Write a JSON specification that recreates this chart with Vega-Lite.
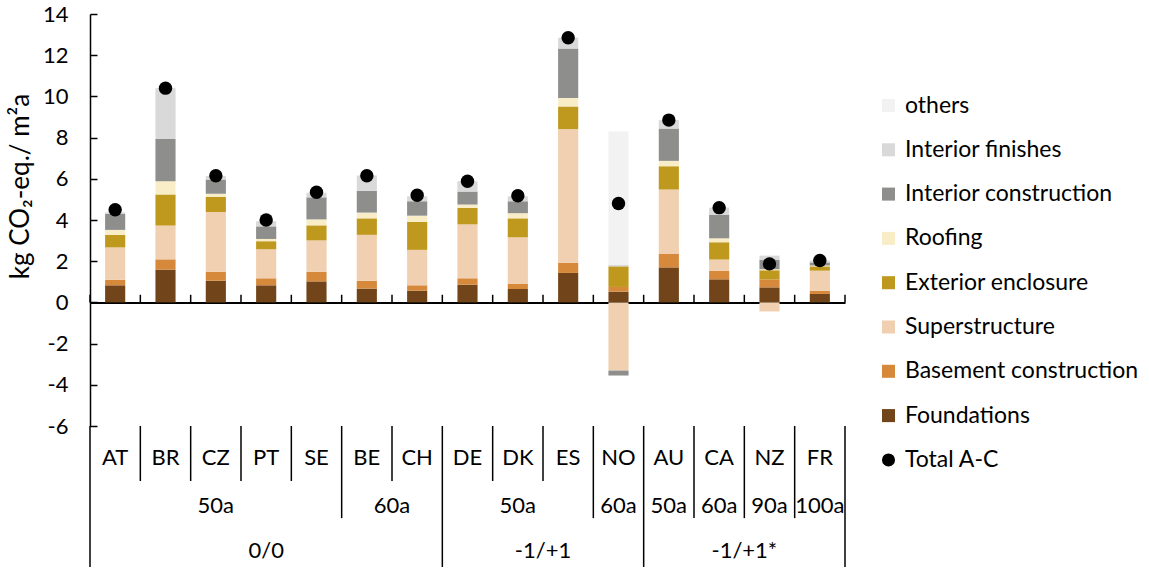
{
  "$schema": "https://vega.github.io/schema/vega-lite/v6.json",
  "padding": {"left": 7, "top": 3, "right": 0, "bottom": 0},
  "bounds": "flush",
  "config": {"font": "Lato", "view": {"stroke": null}, "concat": {"spacing": 0}},
  "datasets": {
    "components": [
      {"component": "Foundations", "k": 1},
      {"component": "Basement construction", "k": 2},
      {"component": "Superstructure", "k": 3},
      {"component": "Exterior enclosure", "k": 4},
      {"component": "Roofing", "k": 5},
      {"component": "Interior construction", "k": 6},
      {"component": "Interior finishes", "k": 7},
      {"component": "others", "k": 8}
    ],
    "parts": [
      {"country": "AT", "component": "Foundations", "value": 0.83},
      {"country": "AT", "component": "Basement construction", "value": 0.27},
      {"country": "AT", "component": "Superstructure", "value": 1.57},
      {"country": "AT", "component": "Exterior enclosure", "value": 0.61},
      {"country": "AT", "component": "Roofing", "value": 0.24},
      {"country": "AT", "component": "Interior construction", "value": 0.77},
      {"country": "AT", "component": "Interior finishes", "value": 0.08},
      {"country": "BR", "component": "Foundations", "value": 1.59},
      {"country": "BR", "component": "Basement construction", "value": 0.5},
      {"country": "BR", "component": "Superstructure", "value": 1.64},
      {"country": "BR", "component": "Exterior enclosure", "value": 1.51},
      {"country": "BR", "component": "Roofing", "value": 0.64},
      {"country": "BR", "component": "Interior construction", "value": 2.05},
      {"country": "BR", "component": "Interior finishes", "value": 2.46},
      {"country": "CZ", "component": "Foundations", "value": 1.05},
      {"country": "CZ", "component": "Basement construction", "value": 0.44},
      {"country": "CZ", "component": "Superstructure", "value": 2.9},
      {"country": "CZ", "component": "Exterior enclosure", "value": 0.73},
      {"country": "CZ", "component": "Roofing", "value": 0.15},
      {"country": "CZ", "component": "Interior construction", "value": 0.69},
      {"country": "CZ", "component": "Interior finishes", "value": 0.17},
      {"country": "PT", "component": "Foundations", "value": 0.83},
      {"country": "PT", "component": "Basement construction", "value": 0.34},
      {"country": "PT", "component": "Superstructure", "value": 1.41},
      {"country": "PT", "component": "Exterior enclosure", "value": 0.39},
      {"country": "PT", "component": "Roofing", "value": 0.11},
      {"country": "PT", "component": "Interior construction", "value": 0.61},
      {"country": "PT", "component": "Interior finishes", "value": 0.25},
      {"country": "SE", "component": "Foundations", "value": 1.02},
      {"country": "SE", "component": "Basement construction", "value": 0.46},
      {"country": "SE", "component": "Superstructure", "value": 1.53},
      {"country": "SE", "component": "Exterior enclosure", "value": 0.73},
      {"country": "SE", "component": "Roofing", "value": 0.29},
      {"country": "SE", "component": "Interior construction", "value": 1.07},
      {"country": "SE", "component": "Interior finishes", "value": 0.22},
      {"country": "BE", "component": "Foundations", "value": 0.67},
      {"country": "BE", "component": "Basement construction", "value": 0.38},
      {"country": "BE", "component": "Superstructure", "value": 2.23},
      {"country": "BE", "component": "Exterior enclosure", "value": 0.8},
      {"country": "BE", "component": "Roofing", "value": 0.28},
      {"country": "BE", "component": "Interior construction", "value": 1.06},
      {"country": "BE", "component": "Interior finishes", "value": 0.74},
      {"country": "CH", "component": "Foundations", "value": 0.57},
      {"country": "CH", "component": "Basement construction", "value": 0.26},
      {"country": "CH", "component": "Superstructure", "value": 1.72},
      {"country": "CH", "component": "Exterior enclosure", "value": 1.36},
      {"country": "CH", "component": "Roofing", "value": 0.3},
      {"country": "CH", "component": "Interior construction", "value": 0.7},
      {"country": "CH", "component": "Interior finishes", "value": 0.24},
      {"country": "DE", "component": "Foundations", "value": 0.86},
      {"country": "DE", "component": "Basement construction", "value": 0.31},
      {"country": "DE", "component": "Superstructure", "value": 2.62},
      {"country": "DE", "component": "Exterior enclosure", "value": 0.8},
      {"country": "DE", "component": "Roofing", "value": 0.16},
      {"country": "DE", "component": "Interior construction", "value": 0.63},
      {"country": "DE", "component": "Interior finishes", "value": 0.5},
      {"country": "DK", "component": "Foundations", "value": 0.65},
      {"country": "DK", "component": "Basement construction", "value": 0.26},
      {"country": "DK", "component": "Superstructure", "value": 2.25},
      {"country": "DK", "component": "Exterior enclosure", "value": 0.92},
      {"country": "DK", "component": "Roofing", "value": 0.25},
      {"country": "DK", "component": "Interior construction", "value": 0.58},
      {"country": "DK", "component": "Interior finishes", "value": 0.24},
      {"country": "ES", "component": "Foundations", "value": 1.43},
      {"country": "ES", "component": "Basement construction", "value": 0.5},
      {"country": "ES", "component": "Superstructure", "value": 6.48},
      {"country": "ES", "component": "Exterior enclosure", "value": 1.1},
      {"country": "ES", "component": "Roofing", "value": 0.41},
      {"country": "ES", "component": "Interior construction", "value": 2.4},
      {"country": "ES", "component": "Interior finishes", "value": 0.53},
      {"country": "NO", "component": "Foundations", "value": 0.52},
      {"country": "NO", "component": "Basement construction", "value": 0.23},
      {"country": "NO", "component": "Superstructure", "value": -3.31},
      {"country": "NO", "component": "Exterior enclosure", "value": 1.0},
      {"country": "NO", "component": "Interior construction", "value": -0.24},
      {"country": "NO", "component": "Interior finishes", "value": 0.08},
      {"country": "NO", "component": "others", "value": 6.47},
      {"country": "AU", "component": "Foundations", "value": 1.7},
      {"country": "AU", "component": "Basement construction", "value": 0.65},
      {"country": "AU", "component": "Superstructure", "value": 3.13},
      {"country": "AU", "component": "Exterior enclosure", "value": 1.13},
      {"country": "AU", "component": "Roofing", "value": 0.26},
      {"country": "AU", "component": "Interior construction", "value": 1.57},
      {"country": "AU", "component": "Interior finishes", "value": 0.41},
      {"country": "CA", "component": "Foundations", "value": 1.12},
      {"country": "CA", "component": "Basement construction", "value": 0.41},
      {"country": "CA", "component": "Superstructure", "value": 0.55},
      {"country": "CA", "component": "Exterior enclosure", "value": 0.84},
      {"country": "CA", "component": "Roofing", "value": 0.19},
      {"country": "CA", "component": "Interior construction", "value": 1.15},
      {"country": "CA", "component": "Interior finishes", "value": 0.34},
      {"country": "NZ", "component": "Foundations", "value": 0.73},
      {"country": "NZ", "component": "Basement construction", "value": 0.39},
      {"country": "NZ", "component": "Superstructure", "value": -0.44},
      {"country": "NZ", "component": "Exterior enclosure", "value": 0.44},
      {"country": "NZ", "component": "Roofing", "value": 0.05},
      {"country": "NZ", "component": "Interior construction", "value": 0.45},
      {"country": "NZ", "component": "Interior finishes", "value": 0.21},
      {"country": "FR", "component": "Foundations", "value": 0.41},
      {"country": "FR", "component": "Basement construction", "value": 0.16},
      {"country": "FR", "component": "Superstructure", "value": 0.97},
      {"country": "FR", "component": "Exterior enclosure", "value": 0.21},
      {"country": "FR", "component": "Roofing", "value": 0.04},
      {"country": "FR", "component": "Interior construction", "value": 0.15},
      {"country": "FR", "component": "Interior finishes", "value": 0.09}
    ],
    "totals": [
      {"country": "AT", "component": "Total A-C", "total": 4.5},
      {"country": "BR", "component": "Total A-C", "total": 10.4},
      {"country": "CZ", "component": "Total A-C", "total": 6.15},
      {"country": "PT", "component": "Total A-C", "total": 4.0},
      {"country": "SE", "component": "Total A-C", "total": 5.35},
      {"country": "BE", "component": "Total A-C", "total": 6.15},
      {"country": "CH", "component": "Total A-C", "total": 5.2},
      {"country": "DE", "component": "Total A-C", "total": 5.88},
      {"country": "DK", "component": "Total A-C", "total": 5.18},
      {"country": "ES", "component": "Total A-C", "total": 12.85},
      {"country": "NO", "component": "Total A-C", "total": 4.8},
      {"country": "AU", "component": "Total A-C", "total": 8.85},
      {"country": "CA", "component": "Total A-C", "total": 4.6},
      {"country": "NZ", "component": "Total A-C", "total": 1.87},
      {"country": "FR", "component": "Total A-C", "total": 2.03}
    ],
    "countries": [
      {"country": "AT"}, {"country": "BR"}, {"country": "CZ"}, {"country": "PT"}, {"country": "SE"},
      {"country": "BE"}, {"country": "CH"}, {"country": "DE"}, {"country": "DK"}, {"country": "ES"},
      {"country": "NO"}, {"country": "AU"}, {"country": "CA"}, {"country": "NZ"}, {"country": "FR"}
    ],
    "sepCountry": [
      {"country": "BR"}, {"country": "CZ"}, {"country": "PT"}, {"country": "SE"},
      {"country": "CH"}, {"country": "DK"}, {"country": "ES"}
    ],
    "sepLife": [
      {"country": "BE"}, {"country": "NO"}, {"country": "CA"}, {"country": "NZ"}, {"country": "FR"}
    ],
    "sepGroup": [
      {"country": "AT"}, {"country": "DE"}, {"country": "AU"}
    ],
    "sepEnd": [
      {"country": "FR"}
    ],
    "lifeMid": [
      {"country": "CZ", "label": "50a"},
      {"country": "DK", "label": "50a"},
      {"country": "NO", "label": "60a"},
      {"country": "AU", "label": "50a"},
      {"country": "CA", "label": "60a"},
      {"country": "NZ", "label": "90a"},
      {"country": "FR", "label": "100a"}
    ],
    "lifeEdge": [
      {"country": "CH", "label": "60a"}
    ],
    "groupMid": [
      {"country": "PT", "label": "0/0"}
    ],
    "groupEdge": [
      {"country": "ES", "label": "-1/+1"},
      {"country": "NZ", "label": "-1/+1*"}
    ]
  },
  "resolve": {"scale": {"x": "independent", "y": "independent"}},
  "vconcat": [
    {
      "width": 755,
      "height": 412,
      "layer": [
        {
          "data": {"name": "parts"},
          "transform": [
            {"lookup": "component", "from": {"data": {"name": "components"}, "key": "component", "fields": ["k"]}}
          ],
          "mark": {"type": "bar", "opacity": 1, "width": {"band": 0.4}},
          "encoding": {
            "x": {
              "field": "country", "type": "nominal",
              "scale": {"type": "band", "domain": ["AT","BR","CZ","PT","SE","BE","CH","DE","DK","ES","NO","AU","CA","NZ","FR"], "paddingInner": 0, "paddingOuter": 0},
              "axis": {
                "orient": "bottom", "offset": -123.6, "labels": false, "title": null,
                "domainColor": "#000", "domainWidth": 2,
                "ticks": false,
                "grid": false, "minExtent": 0, "maxExtent": 0
              }
            },
            "y": {
              "field": "value", "type": "quantitative", "stack": "zero",
              "scale": {"domain": [-6, 14], "nice": false, "zero": false},
              "axis": {
                "values": [-6, -4, -2, 0, 2, 4, 6, 8, 10, 12, 14],
                "labelExpr": "'' + datum.value",
                "title": "kg CO₂-eq./ m²a",
                "titleFontSize": 26, "titleFontWeight": "normal", "titleColor": "#000",
                "titleX": -70, "titleY": 172, "titleAngle": -90, "titleBaseline": "middle", "titleAlign": "center",
                "labelFontSize": 22, "labelColor": "#000", "labelPadding": 29,
                "domainColor": "#000", "domainWidth": 1.5,
                "tickColor": "#000", "tickWidth": 1.5, "tickSize": -7,
                "grid": false
              }
            },
            "color": {
              "field": "component", "type": "nominal",
              "scale": {
                "domain": ["others","Interior finishes","Interior construction","Roofing","Exterior enclosure","Superstructure","Basement construction","Foundations","Total A-C"],
                "range": ["#f2f2f2","#d9d9d9","#8e8f8c","#f9edc7","#bf991d","#f0d0b0","#d7893b","#714519","#000000"]
              },
              "legend": {
                "orient": "none", "legendX": 787, "legendY": 80, "title": null,
                "labelFontSize": 23, "labelColor": "#000", "labelLimit": 400, "symbolSize": 170,
                "rowPadding": 20.3, "symbolStrokeWidth": 0, "labelOffset": 5, "symbolOpacity": 1
              }
            },
            "order": {"field": "k", "type": "quantitative"}
          }
        },
        {
          "data": {"name": "countries"},
          "mark": {"type": "rule", "color": "#000", "strokeWidth": 1.5},
          "encoding": {
            "x": {"field": "country", "type": "nominal", "bandPosition": 0,
                  "scale": {"type": "band", "domain": ["AT","BR","CZ","PT","SE","BE","CH","DE","DK","ES","NO","AU","CA","NZ","FR"], "paddingInner": 0, "paddingOuter": 0}},
            "y": {"datum": 0, "type": "quantitative"},
            "y2": {"datum": 0.37}
          }
        },
        {
          "data": {"name": "sepEnd"},
          "mark": {"type": "rule", "color": "#000", "strokeWidth": 1.5},
          "encoding": {
            "x": {"field": "country", "type": "nominal", "bandPosition": 1,
                  "scale": {"type": "band", "domain": ["AT","BR","CZ","PT","SE","BE","CH","DE","DK","ES","NO","AU","CA","NZ","FR"], "paddingInner": 0, "paddingOuter": 0}},
            "y": {"datum": 0, "type": "quantitative"},
            "y2": {"datum": 0.37}
          }
        },
        {
          "data": {"name": "totals"},
          "mark": {"type": "point", "filled": true, "opacity": 1, "size": 180},
          "encoding": {
            "x": {"field": "country", "type": "nominal",
                  "scale": {"type": "band", "domain": ["AT","BR","CZ","PT","SE","BE","CH","DE","DK","ES","NO","AU","CA","NZ","FR"], "paddingInner": 0, "paddingOuter": 0}},
            "y": {"field": "total", "type": "quantitative"},
            "color": {"field": "component", "type": "nominal"},
            "shape": {
              "field": "component", "type": "nominal",
              "scale": {
                "domain": ["others","Interior finishes","Interior construction","Roofing","Exterior enclosure","Superstructure","Basement construction","Foundations","Total A-C"],
                "range": ["square","square","square","square","square","square","square","square","circle"]
              }
            }
          }
        }
      ]
    },
    {
      "width": 755,
      "height": 141,
      "layer": [
        {
          "data": {"name": "sepCountry"},
          "mark": {"type": "rule", "color": "#000", "strokeWidth": 1.5},
          "encoding": {
            "x": {"field": "country", "type": "nominal", "bandPosition": 0,
                  "scale": {"type": "band", "domain": ["AT","BR","CZ","PT","SE","BE","CH","DE","DK","ES","NO","AU","CA","NZ","FR"], "paddingInner": 0, "paddingOuter": 0},
                  "axis": null},
            "y": {"datum": 0, "type": "quantitative", "scale": {"domain": [0, 3], "reverse": true, "nice": false}, "axis": null},
            "y2": {"datum": 1.17}
          }
        },
        {
          "data": {"name": "sepLife"},
          "mark": {"type": "rule", "color": "#000", "strokeWidth": 1.5},
          "encoding": {
            "x": {"field": "country", "type": "nominal", "bandPosition": 0,
                  "scale": {"type": "band", "domain": ["AT","BR","CZ","PT","SE","BE","CH","DE","DK","ES","NO","AU","CA","NZ","FR"], "paddingInner": 0, "paddingOuter": 0}},
            "y": {"datum": 0, "type": "quantitative"},
            "y2": {"datum": 1.96}
          }
        },
        {
          "data": {"name": "sepGroup"},
          "mark": {"type": "rule", "color": "#000", "strokeWidth": 1.5},
          "encoding": {
            "x": {"field": "country", "type": "nominal", "bandPosition": 0,
                  "scale": {"type": "band", "domain": ["AT","BR","CZ","PT","SE","BE","CH","DE","DK","ES","NO","AU","CA","NZ","FR"], "paddingInner": 0, "paddingOuter": 0}},
            "y": {"datum": 0, "type": "quantitative"},
            "y2": {"datum": 3}
          }
        },
        {
          "data": {"name": "sepEnd"},
          "mark": {"type": "rule", "color": "#000", "strokeWidth": 1.5},
          "encoding": {
            "x": {"field": "country", "type": "nominal", "bandPosition": 1,
                  "scale": {"type": "band", "domain": ["AT","BR","CZ","PT","SE","BE","CH","DE","DK","ES","NO","AU","CA","NZ","FR"], "paddingInner": 0, "paddingOuter": 0}},
            "y": {"datum": 0, "type": "quantitative"},
            "y2": {"datum": 3}
          }
        },
        {
          "data": {"name": "countries"},
          "mark": {"type": "text", "fontSize": 22, "color": "#000", "baseline": "middle", "align": "center"},
          "encoding": {
            "x": {"field": "country", "type": "nominal", "bandPosition": 0.5,
                  "scale": {"type": "band", "domain": ["AT","BR","CZ","PT","SE","BE","CH","DE","DK","ES","NO","AU","CA","NZ","FR"], "paddingInner": 0, "paddingOuter": 0}},
            "y": {"datum": 0.68, "type": "quantitative"},
            "text": {"field": "country"}
          }
        },
        {
          "data": {"name": "lifeMid"},
          "mark": {"type": "text", "fontSize": 22, "color": "#000", "baseline": "middle", "align": "center"},
          "encoding": {
            "x": {"field": "country", "type": "nominal", "bandPosition": 0.5,
                  "scale": {"type": "band", "domain": ["AT","BR","CZ","PT","SE","BE","CH","DE","DK","ES","NO","AU","CA","NZ","FR"], "paddingInner": 0, "paddingOuter": 0}},
            "y": {"datum": 1.7, "type": "quantitative"},
            "text": {"field": "label"}
          }
        },
        {
          "data": {"name": "lifeEdge"},
          "mark": {"type": "text", "fontSize": 22, "color": "#000", "baseline": "middle", "align": "center"},
          "encoding": {
            "x": {"field": "country", "type": "nominal", "bandPosition": 0,
                  "scale": {"type": "band", "domain": ["AT","BR","CZ","PT","SE","BE","CH","DE","DK","ES","NO","AU","CA","NZ","FR"], "paddingInner": 0, "paddingOuter": 0}},
            "y": {"datum": 1.7, "type": "quantitative"},
            "text": {"field": "label"}
          }
        },
        {
          "data": {"name": "groupMid"},
          "mark": {"type": "text", "fontSize": 22, "color": "#000", "baseline": "middle", "align": "center"},
          "encoding": {
            "x": {"field": "country", "type": "nominal", "bandPosition": 0.5,
                  "scale": {"type": "band", "domain": ["AT","BR","CZ","PT","SE","BE","CH","DE","DK","ES","NO","AU","CA","NZ","FR"], "paddingInner": 0, "paddingOuter": 0}},
            "y": {"datum": 2.66, "type": "quantitative"},
            "text": {"field": "label"}
          }
        },
        {
          "data": {"name": "groupEdge"},
          "mark": {"type": "text", "fontSize": 22, "color": "#000", "baseline": "middle", "align": "center"},
          "encoding": {
            "x": {"field": "country", "type": "nominal", "bandPosition": 0,
                  "scale": {"type": "band", "domain": ["AT","BR","CZ","PT","SE","BE","CH","DE","DK","ES","NO","AU","CA","NZ","FR"], "paddingInner": 0, "paddingOuter": 0}},
            "y": {"datum": 2.66, "type": "quantitative"},
            "text": {"field": "label"}
          }
        }
      ]
    }
  ]
}
